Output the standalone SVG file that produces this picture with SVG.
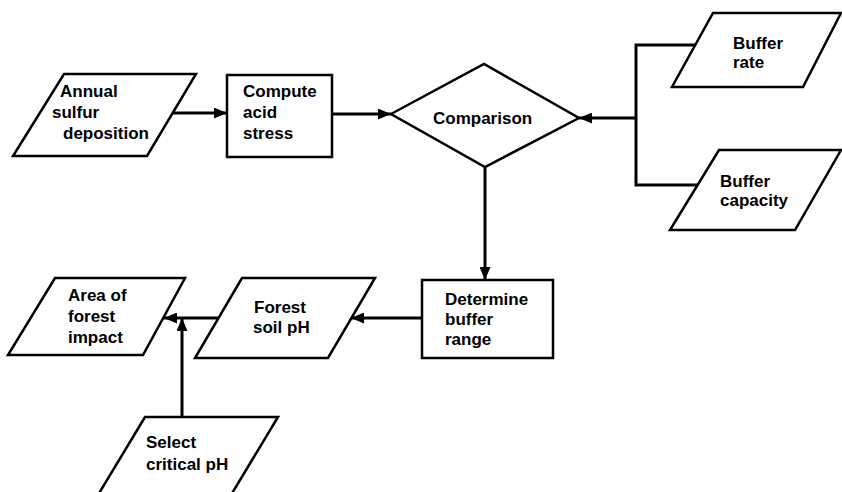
<svg xmlns="http://www.w3.org/2000/svg" width="842" height="492" viewBox="0 0 842 492">
  <defs>
    <marker id="arrow" markerUnits="userSpaceOnUse" markerWidth="13" markerHeight="11" refX="13" refY="5.5" orient="auto">
      <path d="M0,0 L13,5.5 L0,11 z" fill="#000"/>
    </marker>
    <style>
      .shape { fill: #fff; stroke: #000; stroke-width: 2.5; stroke-linejoin: miter; }
      .conn { fill: none; stroke: #000; stroke-width: 3; }
      .lbl { font-family: "Liberation Sans", Arial, Helvetica, sans-serif; font-weight: bold; font-size: 17px; fill: #000; }
    </style>
  </defs>
  <rect width="842" height="492" fill="#fff"/>

  <g id="connectors">
    <line class="conn" x1="172" y1="113" x2="227" y2="113" marker-end="url(#arrow)"/>
    <line class="conn" x1="332" y1="114" x2="391" y2="114" marker-end="url(#arrow)"/>
    <polyline class="conn" points="695,45 636,45 636,185 699,185"/>
    <line class="conn" x1="636" y1="118" x2="579" y2="118" marker-end="url(#arrow)"/>
    <line class="conn" x1="485" y1="167" x2="485" y2="280" marker-end="url(#arrow)"/>
    <line class="conn" x1="422" y1="318" x2="351" y2="318" marker-end="url(#arrow)"/>
    <line class="conn" x1="218" y1="318" x2="164" y2="318" marker-end="url(#arrow)"/>
    <line class="conn" x1="182" y1="417" x2="182" y2="318" marker-end="url(#arrow)"/>
  </g>

  <g id="annual-sulfur-deposition">
    <polygon class="shape" points="64,74 196,74 147,156 13,156"/>
    <text class="lbl" x="60" y="97">Annual</text>
    <text class="lbl" x="52" y="118">sulfur</text>
    <text class="lbl" x="63" y="139">deposition</text>
  </g>

  <g id="compute-acid-stress">
    <rect class="shape" x="227" y="75" width="105" height="82"/>
    <text class="lbl" x="243" y="97">Compute</text>
    <text class="lbl" x="243" y="118">acid</text>
    <text class="lbl" x="243" y="139">stress</text>
  </g>

  <g id="comparison">
    <polygon class="shape" points="391,114 484,64 579,118 485,167"/>
    <text class="lbl" x="433" y="124">Comparison</text>
  </g>

  <g id="buffer-rate">
    <polygon class="shape" points="713,13 841,13 803,87 672,87"/>
    <text class="lbl" x="733" y="49">Buffer</text>
    <text class="lbl" x="733" y="68">rate</text>
  </g>

  <g id="buffer-capacity">
    <polygon class="shape" points="719,150 841,150 795,230 670,230"/>
    <text class="lbl" x="720" y="187">Buffer</text>
    <text class="lbl" x="720" y="206">capacity</text>
  </g>

  <g id="determine-buffer-range">
    <rect class="shape" x="422" y="280" width="131" height="78"/>
    <text class="lbl" x="445" y="305">Determine</text>
    <text class="lbl" x="445" y="325">buffer</text>
    <text class="lbl" x="445" y="345">range</text>
  </g>

  <g id="forest-soil-ph">
    <polygon class="shape" points="242,278 375,278 328,358 195,358"/>
    <text class="lbl" x="254" y="313">Forest</text>
    <text class="lbl" x="253" y="333">soil pH</text>
  </g>

  <g id="area-of-forest-impact">
    <polygon class="shape" points="55,278 185,278 143,355 8,355"/>
    <text class="lbl" x="68" y="301">Area of</text>
    <text class="lbl" x="68" y="322">forest</text>
    <text class="lbl" x="68" y="343">impact</text>
  </g>

  <g id="select-critical-ph">
    <polygon class="shape" points="145,417 278,417 231,495 98,495"/>
    <text class="lbl" x="146" y="448">Select</text>
    <text class="lbl" x="146" y="470">critical pH</text>
  </g>
</svg>
